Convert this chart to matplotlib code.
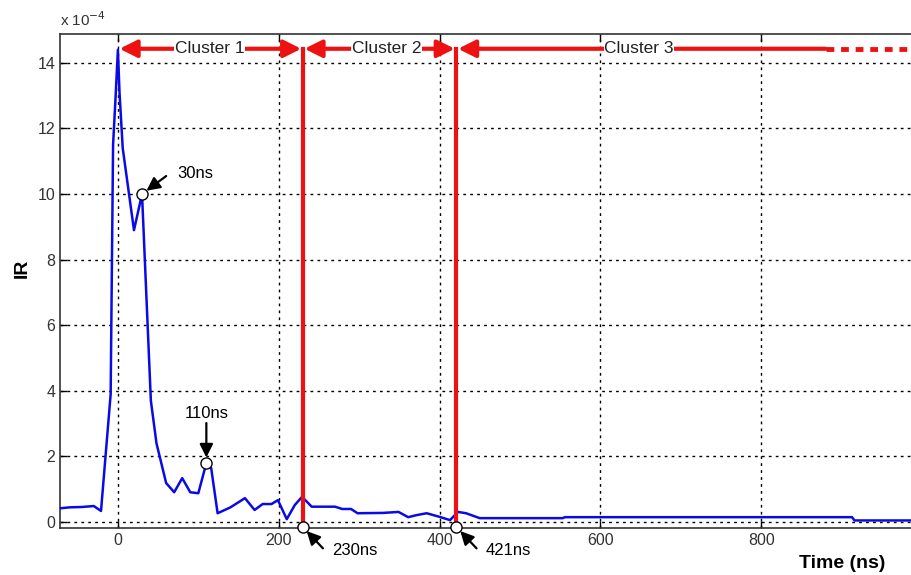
import matplotlib.pyplot as plt
import numpy as np

plt.rcParams['font.family'] = ['Liberation Sans', 'DejaVu Sans']

# impulse response, IR in units of 1e-4
time_ns = [-72, -60, -45, -30, -21, -9, -6, -3, 0, 2, 6, 20, 30, 41, 48, 60, 70,
           80, 90, 100, 110, 116, 124, 140, 158, 170, 180, 191, 199, 210, 220,
           229, 241, 270, 279, 290, 298, 330, 349, 361, 371, 384, 400, 413, 423,
           433, 450, 553, 556, 913, 916, 1000]
ir_e4 = [0.42, 0.45, 0.46, 0.49, 0.34, 3.9, 11.5, 12.9, 14.4, 13.1, 11.4, 8.9,
         10.0, 3.7, 2.4, 1.19, 0.91, 1.34, 0.91, 0.88, 1.8, 1.65, 0.27, 0.45,
         0.73, 0.37, 0.55, 0.55, 0.67, 0.09, 0.52, 0.77, 0.47, 0.47, 0.40, 0.40,
         0.27, 0.28, 0.31, 0.15, 0.21, 0.27, 0.16, 0.06, 0.31, 0.27, 0.12, 0.12,
         0.15, 0.15, 0.05, 0.05]

# cluster boundaries and marked peaks
cluster_edges = [0, 230, 421]
cluster_names = ["Cluster 1", "Cluster 2", "Cluster 3"]
cluster_label_t = [114, 334, 648]
peak_t = [30, 110]
peak_ir = [10.0, 1.8]
peak_labels = ["30ns", "110ns"]
edge_labels = ["230ns", "421ns"]

W, H = 911, 575
fig = plt.figure(figsize=(W / 100, H / 100), dpi=100)
ax = fig.add_axes([60 / W, 47 / H, 862 / W, 494 / H])

ax.plot(time_ns, ir_e4, color='#0a0ae6', lw=1.8, zorder=3)

ax.set_xlim(-72, 1000)
ax.set_ylim(-0.18, 14.88)
ax.set_xticks([0, 200, 400, 600, 800])
ax.set_yticks(np.arange(0, 15, 2))
ax.grid(True, color='k', ls=(0, (2, 3)), lw=1)
ax.tick_params(direction='in', top=True, right=True, length=5,
               labelsize=11.5, labelcolor='#333333', width=1)
for s in ax.spines.values():
    s.set_color('#333333')
    s.set_linewidth(1.2)

# cluster arrows along the top
ytop = 14.43
red = '#ee1111'
for a, b in [(0, 230), (230, 421)]:
    ax.annotate('', xy=(b - 2, ytop), xytext=(a + 2, ytop),
                arrowprops=dict(arrowstyle='<|-|>', color=red, lw=3,
                                mutation_scale=26, shrinkA=0, shrinkB=0),
                zorder=5)
ax.annotate('', xy=(423, ytop), xytext=(880, ytop),
            arrowprops=dict(arrowstyle='-|>', color=red, lw=3,
                            mutation_scale=26, shrinkA=0, shrinkB=0),
            zorder=5)
ax.plot([880, 1000], [ytop, ytop], color=red, lw=3.5, ls=(0, (1.6, 1.4)),
        clip_on=False, zorder=5)
for name, tx in zip(cluster_names, cluster_label_t):
    ax.text(tx, ytop, name, ha='center', va='center', fontsize=12.5,
            color='#222222', zorder=6,
            bbox=dict(facecolor='white', edgecolor='none', pad=0.5))

for e in cluster_edges[1:]:
    ax.plot([e, e], [-0.15, ytop], color=red, lw=3, zorder=4, clip_on=False)

# marked points
ax.plot(peak_t, peak_ir, 'o', ms=8, mfc='white', mec='k', mew=1, zorder=7)
ax.plot(cluster_edges[1:], [-0.15, -0.15], 'o', ms=8, mfc='white', mec='k',
        mew=1, zorder=7, clip_on=False)

arrow_kw = dict(arrowstyle='-|>', color='k', lw=1.6, mutation_scale=20,
                shrinkA=0, shrinkB=4)
ax.text(74, 10.64, peak_labels[0], ha='left', va='center', fontsize=12)
ax.annotate('', xy=(peak_t[0], peak_ir[0]), xytext=(60, 10.55),
            arrowprops=arrow_kw)
ax.text(peak_t[1], 3.32, peak_labels[1], ha='center', va='center', fontsize=12)
ax.annotate('', xy=(peak_t[1], peak_ir[1]), xytext=(peak_t[1], 3.02),
            arrowprops=arrow_kw)
for e, lab in zip(cluster_edges[1:], edge_labels):
    ax.text(e + 36, -0.87, lab, ha='left', va='center', fontsize=12,
            clip_on=False)
    ax.annotate('', xy=(e, -0.15), xytext=(e + 25, -0.8),
                arrowprops=arrow_kw, annotation_clip=False)

fig.text(60 / W, 1 - 20 / H, r'x 10$^{-4}$', ha='left', va='center',
         fontsize=11, color='#333333')
fig.text(22 / W, 1 - 268 / H, 'IR', rotation=90, ha='center', va='center',
         fontsize=14, fontweight='bold')
fig.text(842 / W, 1 - 563 / H, 'Time (ns)', ha='center', va='center',
         fontsize=14, fontweight='bold')

fig.savefig('out.png', dpi=100)
